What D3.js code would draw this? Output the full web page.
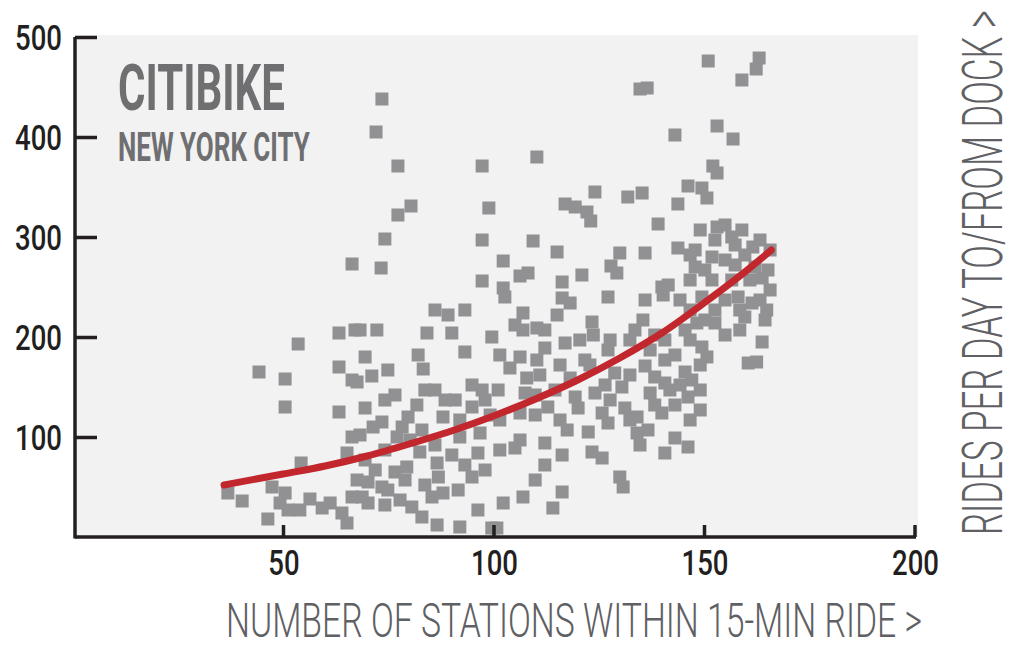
<!DOCTYPE html>
<html><head><meta charset="utf-8">
<script src="https://cdn.jsdelivr.net/npm/d3@7"></script>
<style>body{margin:0;background:#fff}</style>
</head><body><svg id="c" width="1019" height="650"></svg>
<script>
// Data: number of stations within 15-min ride (x) vs rides per day (y)
const stationsX = [151.0,163.1,162.4,159.0,134.8,136.5,143.1,153.1,156.9,152.1,153.1,146.2,149.5,150.7,135.3,143.8,139.1,153.1,159.0,136.0,143.8,147.9,152.6,156.6,161.6,147.9,151.9,155.0,162.1,165.2,141.5,140.0,151.9,156.6,163.8,
73.5,72.1,77.3,97.3,80.4,77.3,98.9,74.2,97.3,66.4,73.3,97.3,
110.3,124.1,131.9,117.0,119.4,122.2,123.1,109.4,115.1,102.3,130.0,127.9,129.3,106.3,108.2,116.3,121.0,102.3,
53.6,44.3,50.5,50.5,63.3,67.1,63.3,66.4,63.3,54.3,66.4,65.2,36.9,40.3,47.4,50.5,49.3,51.2,46.4,56.4,59.3,61.2,64.0,65.2,66.4,
86.1,89.2,93.2,68.3,72.3,84.2,90.1,99.6,69.5,82.1,83.3,93.2,74.9,71.1,67.6,86.1,69.5,94.9,90.9,97.3,88.0,81.8,79.7,78.3,73.5,71.4,68.3,94.9,98.0,96.8,92.0,83.0,77.1,90.1,96.3,86.6,86.9,79.4,76.6,71.9,70.2,73.5,74.9,79.0,68.8,70.2,94.9,85.4,88.0,80.6,83.0,86.6,92.0,96.3,99.6,
102.7,127.2,116.3,118.2,115.1,107.0,107.0,110.3,123.4,123.7,117.0,127.7,127.2,132.4,112.2,110.3,106.3,103.9,107.9,101.1,107.5,118.2,119.4,124.1,126.5,130.5,128.8,112.9,120.1,106.3,125.8,131.2,127.2,117.5,122.5,106.3,105.1,112.2,116.3,123.4,125.8,112.2,109.9,130.0,130.8,107.0,116.3,102.3,114.1,100.8,
136.0,140.3,149.5,158.1,161.4,164.9,159.7,135.5,148.3,152.6,145.5,163.8,140.7,149.5,150.7,160.5,162.5,136.0,140.7,138.3,145.5,140.7,147.1,137.2,141.9,146.2,140.0,134.1,134.1,136.7,143.1,146.2,140.7,
155.0,157.4,159.7,163.3,165.7,165.7,163.3,158.5,155.0,152.6,150.2,146.7,149.1,146.7,157.4,160.9,164.5,158.5,155.0,150.2,146.7,144.3,146.7,
137.2,143.1,144.3,149.1,149.1,143.1,138.3,132.4,133.6,138.3,149.1,146.7,134.8,
105.1,112.2,120.5,121.7,115.8,111.0,114.6,122.9,127.7,132.4,109.9,115.8,101.5,101.5,109.9,
74.2,80.2,82.5,86.1,92.0,99.2,101.5,98.0,93.2,91.6,83.7,77.8,74.2,69.5,88.5,83.7,76.6,74.2,
67.6,54.0];
const ridesY = [476,479,468,457,448,449,402,411,398,371,364,351,349,339,344,333,313,310,307,284,289,287,297,300,290,270,280,277,270,267,252,250,257,257,259,
438,405,371,371,331,322,329,298,297,273,269,256,
380,345,340,333,330,325,316,296,285,276,284,271,264,261,264,255,262,249,
193,165,158,130,204,207,170,157,125,74,100,84,44,36,50,44,34,27,18,38,29,34,24,14,40,
227,222,227,207,207,204,204,200,180,182,168,185,167,161,155,147,129,152,137,147,120,132,120,110,115,110,102,130,137,104,100,107,100,82,84,74,60,70,65,67,55,50,47,57,40,34,60,40,44,30,20,12,10,27,9,
240,240,239,234,222,224,207,209,215,202,194,197,187,197,189,177,180,169,159,147,144,159,140,144,152,150,164,130,129,124,124,129,114,107,105,97,89,94,82,85,79,72,57,60,50,40,45,34,29,9,
237,242,240,240,234,227,220,217,214,214,207,195,197,190,180,174,175,171,177,160,165,154,157,144,147,140,124,120,104,107,99,90,84,
312,292,282,297,287,247,237,227,237,227,267,257,307,282,272,257,217,207,202,217,227,237,197,
187,182,152,172,147,132,132,162,207,202,127,117,92,
212,207,197,177,172,162,147,172,137,117,122,117,117,182,142,
87,97,85,92,117,122,87,67,72,47,52,37,32,77,137,147,142,137,
57,27];
// Trend line
const trendX = [36,50,60,70,80,90,100,110,120,130,140,150,160,166];
const trendY = [52,63,71,81,93,106,121,138,157,179,204,234,266,287];
const xTicks = [50,100,150,200];
const yTicks = [100,200,300,400,500];
const titleText = "CITIBIKE";
const subtitleText = "NEW YORK CITY";
const xTitleText = "NUMBER OF STATIONS WITHIN 15-MIN RIDE >";
const yTitleText = "RIDES PER DAY TO/FROM DOCK >";

const svg = d3.select("#c");
const x = d3.scaleLinear().domain([0,200]).range([72.5, 914.5]);
const y = d3.scaleLinear().domain([0,500]).range([537, 37]);

// background panel
svg.append("rect").attr("x",75).attr("y",35).attr("width",843).attr("height",502).attr("fill","#f2f2f2");

// condensed text helper
function ctext(parent, str, o){
  const t = parent.append("text").text(str)
    .attr("font-family","Roboto, 'Liberation Sans', sans-serif")
    .attr("font-size",o.size).attr("font-weight",o.weight||400)
    .attr("fill",o.fill).attr("text-anchor",o.anchor||"start");
  let sx = o.sx || 1;
  if (o.width) { sx = o.width / t.node().getComputedTextLength(); }
  t.attr("transform",`translate(${o.x},${o.y}) ${o.rotate?`rotate(${o.rotate})`:""} scale(${sx},1)`);
  return sx;
}

// points
const pts = stationsX.map((d,i)=>({x:d,y:ridesY[i]}));
const S = 13;
svg.append("g").selectAll("rect").data(pts).join("rect")
  .attr("x",d=>x(d.x)-S/2).attr("y",d=>y(d.y)-S/2)
  .attr("width",S).attr("height",S).attr("fill","#919194");

// trend line
const trend = trendX.map((d,i)=>({x:d,y:trendY[i]}));
svg.append("path").datum(trend)
  .attr("d",d3.line().x(d=>x(d.x)).y(d=>y(d.y)).curve(d3.curveMonotoneX))
  .attr("fill","none").attr("stroke","#c1272d").attr("stroke-width",7).attr("stroke-linecap","round");

// axes
const yAxis = d3.axisLeft(y).tickValues(yTicks).tickSize(-22).tickSizeOuter(0).tickFormat("");
const gy = svg.append("g").attr("transform","translate(75,0)").call(yAxis);
const xAxis = d3.axisBottom(x).tickValues(xTicks).tickSize(-12).tickSizeOuter(0).tickFormat("");
const gx = svg.append("g").attr("transform","translate(0,537)").call(xAxis);
[gy,gx].forEach(g=>{
  g.selectAll("path,line").attr("stroke","#231f20").attr("stroke-width",3.5);
});
gx.select(".domain").attr("d","M75,0H916");
gy.select(".domain").attr("d","M0,37V538.5");

// tick labels
const lab = svg.append("g");
let tsx = null;
{
  const tmp = lab.append("text").text("500").attr("font-family","Roboto, 'Liberation Sans', sans-serif").attr("font-size",35).attr("font-weight",500);
  tsx = 47 / tmp.node().getComputedTextLength(); tmp.remove();
}
yTicks.forEach(v=>ctext(lab, String(v), {x:62, y:y(v)+13, size:35, weight:500, fill:"#231f20", anchor:"end", sx:tsx}));
xTicks.forEach(v=>ctext(lab, String(v), {x:x(v)+1, y:575, size:35, weight:500, fill:"#231f20", anchor:"middle", sx:tsx}));

// titles
ctext(svg, titleText, {x:118, y:110, size:64, weight:700, fill:"#6f6f72", width:167});
ctext(svg, subtitleText, {x:118, y:161, size:40, weight:700, fill:"#6f6f72", width:192});
ctext(svg, xTitleText, {x:226, y:637, size:48, weight:300, fill:"#5f6064", width:696});
ctext(svg, yTitleText, {x:1002, y:535, size:56, weight:300, fill:"#5f6064", width:525, rotate:-90});
</script></body></html>
